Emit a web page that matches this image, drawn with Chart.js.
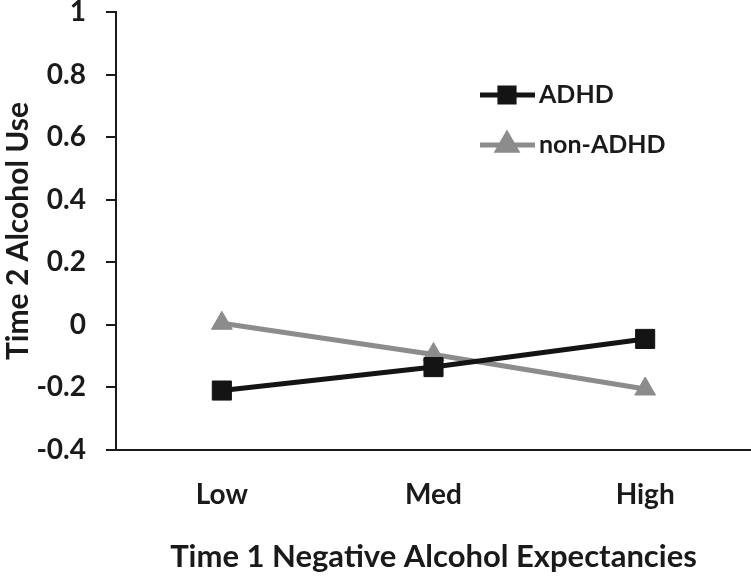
<!DOCTYPE html>
<html>
<head>
<meta charset="utf-8">
<script src="https://cdn.jsdelivr.net/npm/chart.js@4/dist/chart.umd.min.js"></script>
<style>
    html, body { margin: 0; padding: 0; background: #fff; }
    canvas { display: block; }
</style>
</head>
<body>
<canvas id="interactionChart" width="751" height="576"></canvas>
<script>
const categories = ["Low", "Med", "High"];
const adhdValues = [-0.21, -0.135, -0.045];
const nonAdhdValues = [0.005, -0.095, -0.205];
const seriesNames = ["ADHD", "non-ADHD"];
const yTicks = [-0.4, -0.2, 0, 0.2, 0.4, 0.6, 0.8, 1];

const FONT = "Lato, 'Open Sans', 'Liberation Sans', sans-serif";

/*
 * Legend drawn inside the plot area, like the original */
const innerLegend = {
    id: "innerLegend",
    afterDraw(chart) {
        const ctx = chart.ctx;
        const x0 = 480;
        const rows = [95, 145];

        chart.data.datasets.forEach((ds, i) => {
            const y = rows[i];
            ctx.save();
            ctx.strokeStyle = ds.borderColor;
            ctx.lineWidth = 5;
            ctx.beginPath();
            ctx.moveTo(x0, y);
            ctx.lineTo(x0 + 55, y);
            ctx.stroke();

            ctx.fillStyle = ds.pointBackgroundColor;
            ctx.strokeStyle = ds.pointBorderColor;
            Chart.helpers.drawPoint(ctx, {
                pointStyle: ds.pointStyle,
                radius: ds.pointStyle === "rect" ? 10 : 10.5,
                borderWidth: 1,
                rotation: 0,
            }, x0 + 27, y);

            ctx.fillStyle = "#1a1a1a";
            ctx.font = "bold 25px " + FONT;
            ctx.textBaseline = "middle";
            ctx.textAlign = "left";
            ctx.fillText(ds.label, x0 + 59, y);
            ctx.restore();
        });
    },
};

const ctx = document.getElementById("interactionChart");

new Chart(ctx, {
    type: "line",
    data: {
        labels: categories,
        datasets: [
            {
                label: seriesNames[0],
                data: adhdValues,
                borderColor: "#141414",
                borderWidth: 5,
                pointStyle: "rect",
                pointRadius: 13.5,
                pointBackgroundColor: "#141414",
                pointBorderColor: "#141414",
                pointBorderWidth: 1,
                tension: 0,
            },
            {
                label: seriesNames[1],
                data: nonAdhdValues,
                borderColor: "#8c8c8c",
                borderWidth: 5,
                pointStyle: "triangle",
                pointRadius: 12,
                pointBackgroundColor: "#8c8c8c",
                pointBorderColor: "#8c8c8c",
                pointBorderWidth: 1,
                tension: 0,
            },
        ],
    },
    options: {
        responsive: false,
        animation: false,
        layout: {
            autoPadding: false,
            padding: 0,
        },
        plugins: {
            legend: { display: false },
            tooltip: { enabled: false },
        },
        scales: {
            x: {
                offset: true,
                afterFit: (scale) => {
                    // fixed band under the plot, no side padding
                    scale.height = 126;
                    scale.paddingLeft = 0;
                    scale.paddingRight = 0;
                },
                grid: { display: false, drawTicks: false },
                border: { display: true, color: "#1a1a1a", width: 2 },
                ticks: {
                    padding: 28,
                    color: "#1a1a1a",
                    font: { family: FONT, size: 28, weight: "bold", lineHeight: 1.2 },
                },
                title: {
                    display: true,
                    text: "Time 1 Negative Alcohol Expectancies",
                    color: "#1a1a1a",
                    font: { family: FONT, size: 31, weight: "bold", lineHeight: 1.2 },
                    padding: { top: 27, bottom: 0 },
                },
            },
            y: {
                min: -0.4,
                max: 1,
                afterBuildTicks: (axis) => {
                    axis.ticks = yTicks.map((v) => ({ value: v }));
                },
                afterFit: (scale) => {
                    scale.width = 116;
                    scale.paddingTop = 12;
                    scale.paddingBottom = 0;
                },
                grid: {
                    display: true,
                    drawOnChartArea: false,
                    drawTicks: true,
                    tickLength: 10,
                    color: "#1a1a1a",
                    lineWidth: 2,
                },
                border: { display: true, color: "#1a1a1a", width: 2 },
                ticks: {
                    padding: 20,
                    color: "#1a1a1a",
                    font: { family: FONT, size: 28, weight: "bold", lineHeight: 0.8 },
                    callback: (v) => String(Math.round(v * 10) / 10),
                },
                title: {
                    display: true,
                    text: "Time 2 Alcohol Use",
                    color: "#1a1a1a",
                    font: { family: FONT, size: 30, weight: "bold", lineHeight: 1.2 },
                    padding: { top: 0, bottom: 0 },
                },
            },
        },
    },
    plugins: [innerLegend],
});
</script>
</body>
</html>
